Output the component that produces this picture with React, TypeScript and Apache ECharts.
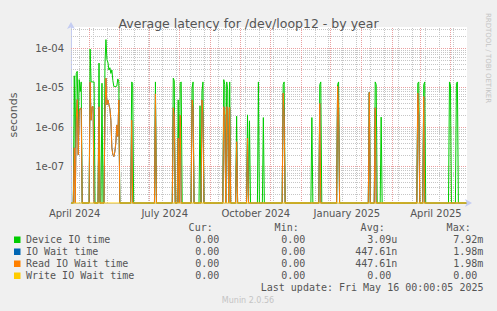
import React, { useEffect, useRef } from 'react';
import * as echarts from 'echarts';

const TITLE = 'Average latency for /dev/loop12 - by year';
const Y_NAME = 'seconds';
const X_MIN = '2024-03-13 16:48';
const X_MAX = '2025-04-17 16:48';
const FIRST_DAY = '2024-03-14';
const LAST_DAY = '2025-04-17';
const Y_MIN = 1.2e-8;
const Y_MAX = 3.45e-4;

const monthNames = ['January', 'February', 'March', 'April', 'May', 'June', 'July', 'August', 'September', 'October', 'November', 'December'];

// Device IO time (green), non-zero days
const deviceDates = [
  '2024-03-17', '2024-03-18', '2024-03-19', '2024-03-20', '2024-03-21', '2024-03-22', '2024-03-23', '2024-03-24',
  '2024-04-02', '2024-04-03', '2024-04-04', '2024-04-05', '2024-04-06', '2024-04-11', '2024-04-14',
  '2024-04-17', '2024-04-18', '2024-04-19', '2024-04-20', '2024-04-21', '2024-04-22', '2024-04-23', '2024-04-24',
  '2024-04-25', '2024-04-26', '2024-04-27', '2024-04-28', '2024-04-29', '2024-04-30', '2024-05-01',
  '2024-05-14', '2024-05-15', '2024-06-07', '2024-06-25', '2024-06-26', '2024-06-30', '2024-07-02', '2024-07-03',
  '2024-07-14', '2024-07-15', '2024-07-22', '2024-07-24', '2024-07-25',
  '2024-08-15', '2024-08-16', '2024-08-18', '2024-08-19', '2024-08-21', '2024-08-28',
  '2024-09-08', '2024-09-10', '2024-09-19', '2024-09-24', '2024-10-14', '2024-10-15', '2024-11-12',
  '2024-11-20', '2024-11-21', '2024-12-08', '2024-12-09', '2025-01-09', '2025-01-15', '2025-01-16', '2025-01-21',
  '2025-02-27', '2025-02-28', '2025-03-05', '2025-03-06', '2025-03-31', '2025-04-01', '2025-04-07', '2025-04-08',
];
const deviceValues = [
  2.0e-5, 3e-7, 2.3e-5, 2.6e-5, 1e-6, 1.6e-5, 8e-6, 1.4e-5,
  9.5e-5, 1.4e-5, 1.4e-5, 1.4e-5, 1.4e-5, 4.2e-5, 1.3e-5,
  4e-5, 1.65e-4, 5.1e-5, 4.4e-5, 2.8e-5, 3.2e-5, 2.3e-5, 2.8e-5,
  1.5e-5, 1.07e-5, 1.07e-5, 1.07e-5, 1.1e-5, 1.67e-5, 1.4e-5,
  1.4e-5, 1.3e-5, 1.4e-5, 1.75e-5, 1.5e-5, 4.9e-6, 1.3e-5, 1.4e-5,
  9.8e-6, 1.4e-5, 3.5e-6, 8e-6, 1.4e-5,
  1.6e-5, 1.2e-5, 1.4e-5, 8.9e-6, 1.4e-5, 1.9e-6,
  2.05e-6, 1.45e-6, 1.4e-5, 1.75e-6, 1.2e-5, 1.4e-5, 1.75e-6,
  1.2e-5, 1.4e-5, 1.2e-5, 1.4e-5, 7.6e-6, 1.4e-5, 1.2e-5, 1.8e-6,
  1.3e-5, 1.4e-5, 1.2e-5, 1.4e-5, 1.4e-5, 1.2e-5, 1.3e-5, 1.4e-5,
];

// Read IO Wait time (orange) and IO Wait time (blue, identical), non-zero days
const readDates = [
  '2024-03-17', '2024-03-19', '2024-03-20', '2024-03-21', '2024-03-22', '2024-03-23', '2024-03-24',
  '2024-04-02', '2024-04-03', '2024-04-04', '2024-04-05', '2024-04-11',
  '2024-04-17', '2024-04-18', '2024-04-19', '2024-04-20', '2024-04-21', '2024-04-22', '2024-04-23', '2024-04-24',
  '2024-04-25', '2024-04-26', '2024-04-27', '2024-04-28', '2024-04-29', '2024-04-30', '2024-05-01',
  '2024-05-14', '2024-06-07', '2024-06-25', '2024-06-26', '2024-06-30', '2024-07-02',
  '2024-07-14', '2024-07-15', '2024-07-24', '2024-07-25',
  '2024-08-15', '2024-08-16', '2024-08-18', '2024-08-19', '2024-08-21', '2024-08-28', '2024-09-08',
  '2024-10-14', '2024-10-15', '2024-11-20', '2024-12-08', '2024-12-09', '2025-01-09', '2025-01-15',
  '2025-02-27', '2025-02-28', '2025-03-05',
];
const readValues = [
  3e-7, 1.5e-6, 5e-6, 2e-7, 2.5e-6, 3e-6, 3e-6,
  1.4e-5, 1.5e-6, 3.3e-6, 3.3e-6, 3.3e-6,
  2e-6, 1.75e-5, 3.7e-6, 4.9e-6, 3.7e-6, 2.9e-6, 1.5e-6, 3e-7,
  2e-7, 1.8e-7, 2.4e-7, 4e-7, 1.14e-6, 5.8e-7, 4.9e-6,
  1.5e-6, 7e-6, 3.1e-6, 2e-6, 5.3e-7, 2e-6,
  4.9e-6, 3e-6, 4.9e-6, 2e-6,
  3.3e-6, 2e-6, 3.3e-6, 3e-6, 3.2e-6, 4.3e-7, 5.3e-7,
  7.3e-6, 2e-6, 4e-6, 1.1e-5, 3e-6, 7.6e-6, 3.1e-6,
  7.3e-6, 2e-6, 6e-6,
];

// Write IO Wait time: zero on every day
const writeDates: string[] = [];
const writeValues: number[] = [];

const majorGridDates = [
  '2024-04-01', '2024-05-01', '2024-06-01', '2024-07-01', '2024-08-01', '2024-09-01', '2024-10-01',
  '2024-11-01', '2024-12-01', '2025-01-01', '2025-02-01', '2025-03-01', '2025-04-01',
];
const minorGridDates = [
  '2024-03-22', '2024-04-05', '2024-04-19', '2024-05-03', '2024-05-17', '2024-05-31', '2024-06-14',
  '2024-06-28', '2024-07-12', '2024-07-26', '2024-08-09', '2024-08-23', '2024-09-06', '2024-09-20',
  '2024-10-04', '2024-10-18', '2024-11-01', '2024-11-15', '2024-11-29', '2024-12-13', '2024-12-27',
  '2025-01-10', '2025-01-24', '2025-02-07', '2025-02-21', '2025-03-07', '2025-03-21', '2025-04-04',
];
const majorGridValues = [1e-7, 1e-6, 1e-5, 1e-4];
const minorGridValues = [
  2e-8, 3e-8, 4e-8, 5e-8, 6e-8, 7e-8, 8e-8, 9e-8,
  2e-7, 3e-7, 4e-7, 5e-7, 6e-7, 7e-7, 8e-7, 9e-7,
  2e-6, 3e-6, 4e-6, 5e-6, 6e-6, 7e-6, 8e-6, 9e-6,
  2e-5, 3e-5, 4e-5, 5e-5, 6e-5, 7e-5, 8e-5, 9e-5,
  2e-4, 3e-4,
];

const legendNames = ['Device IO time', 'IO Wait time', 'Read IO Wait time', 'Write IO Wait time'];
const legendColors = ['#00cc00', '#0066b3', '#ff8000', '#ffcc00'];
const statHeaders = ['Cur:', 'Min:', 'Avg:', 'Max:'];
const curValues = ['0.00', '0.00', '0.00', '0.00'];
const minValues = ['0.00', '0.00', '0.00', '0.00'];
const avgValues = ['3.09u', '447.61n', '447.61n', '0.00'];
const maxValues = ['7.92m', '1.98m', '1.98m', '0.00'];
const LAST_UPDATE = 'Last update: Fri May 16 00:00:05 2025';
const FOOTER = 'Munin 2.0.56';
const SIDE_TEXT = 'RRDTOOL / TOBI OETIKER';

const DAY = 86400000;

const parseTs = (s: string) => {
  const [dPart, tPart] = s.split(' ');
  const [y, m, d] = dPart.split('-').map(Number);
  let hh = 0, mm = 0;
  if (tPart) [hh, mm] = tPart.split(':').map(Number);
  return new Date(y, m - 1, d, hh, mm).getTime();
};
const fmtDay = (t: number) => {
  const d = new Date(t);
  const p = (n: number) => String(n).padStart(2, '0');
  return `${d.getFullYear()}-${p(d.getMonth() + 1)}-${p(d.getDate())}`;
};

const allDays: string[] = (() => {
  const out: string[] = [];
  const d = new Date(parseTs(FIRST_DAY));
  const end = parseTs(LAST_DAY);
  while (d.getTime() <= end) {
    out.push(fmtDay(d.getTime()));
    d.setDate(d.getDate() + 1);
  }
  return out;
})();

const dailySeries = (dates: string[], values: number[]) => {
  const m = new Map<string, number>();
  dates.forEach((d, i) => m.set(d, values[i]));
  // zero days sit on the bottom of the log axis
  return allDays.map((d) => {
    const v = m.get(d) ?? 0;
    return [parseTs(d), v > 0 ? v : Y_MIN];
  });
};

const SANS = 'DejaVu Sans';
const MONO = 'DejaVu Sans Mono';
const TXT = '#555555';

export default function App() {
  const ref = useRef<HTMLDivElement>(null);
  useEffect(() => {
    if (!ref.current) return;
    const chart = echarts.init(ref.current, undefined, { renderer: 'svg' });
    const xMin = parseTs(X_MIN);
    const xMax = parseTs(X_MAX);

    const seriesDefs = [
      { name: legendNames[0], color: legendColors[0], dates: deviceDates, values: deviceValues },
      { name: legendNames[1], color: legendColors[1], dates: readDates, values: readValues },
      { name: legendNames[2], color: legendColors[2], dates: readDates, values: readValues },
      { name: legendNames[3], color: legendColors[3], dates: writeDates, values: writeValues },
    ];

    const majorC = '#eaa0a0';
    const minorC = '#c6c6c6';
    const gridSeries = (color: string, data: any[]) => ({
      type: 'lines',
      coordinateSystem: 'cartesian2d',
      silent: true,
      z: 1,
      lineStyle: { color, width: 1, type: [1, 1], opacity: 1 },
      emphasis: { disabled: true },
      data,
    });

    const rows = [239.5, 251.5, 263.5, 275.5];
    const colRight = [225.3, 311.3, 397.3, 483.3];
    const cols = [curValues, minValues, avgValues, maxValues];
    const graphics: any[] = [];
    legendNames.forEach((n, i) => {
      graphics.push({
        type: 'rect',
        shape: { x: 14, y: rows[i] - 3, width: 6.5, height: 6.5 },
        style: { fill: legendColors[i] },
      });
      graphics.push({
        type: 'text',
        x: 26,
        y: rows[i],
        style: { text: n, font: `10px "${MONO}"`, fill: TXT, textVerticalAlign: 'middle' },
      });
      cols.forEach((col, c) => {
        const s = col[i];
        const hasUnit = /[a-zA-Z]$/.test(s);
        graphics.push({
          type: 'text',
          x: colRight[c] - (hasUnit ? 0 : 6.02),
          y: rows[i],
          style: { text: s, font: `10px "${MONO}"`, fill: TXT, textAlign: 'right', textVerticalAlign: 'middle' },
        });
      });
    });
    statHeaders.forEach((h, c) => {
      graphics.push({
        type: 'text',
        x: colRight[c] - 12.6,
        y: 227.5,
        style: { text: h, font: `10px "${MONO}"`, fill: TXT, textAlign: 'right', textVerticalAlign: 'middle' },
      });
    });
    graphics.push({
      type: 'text',
      x: 483.5,
      y: 287.8,
      style: { text: LAST_UPDATE, font: `10px "${MONO}"`, fill: TXT, textAlign: 'right', textVerticalAlign: 'middle' },
    });
    graphics.push({
      type: 'text',
      x: 248,
      y: 300.8,
      style: { text: FOOTER, font: `8px "${SANS}"`, fill: '#c4c4c4', textAlign: 'center', textVerticalAlign: 'middle' },
    });
    graphics.push({
      type: 'text',
      x: 488,
      y: 58,
      rotation: -Math.PI / 2,
      style: { text: SIDE_TEXT, font: `7px "${SANS}"`, fill: '#c4c4c4', textAlign: 'center', textVerticalAlign: 'middle' },
    });

    const option: any = {
      animation: false,
      backgroundColor: '#f0f0f0',
      textStyle: { fontFamily: SANS },
      title: {
        text: TITLE,
        left: 'center',
        top: 12,
        textStyle: { fontFamily: SANS, fontSize: 12.5, fontWeight: 'normal', color: TXT },
      },
      grid: {
        left: 67,
        right: 30,
        top: 27,
        bottom: 108,
        show: true,
        backgroundColor: '#ffffff',
        borderWidth: 0,
        containLabel: false,
      },
      xAxis: {
        type: 'time',
        min: xMin,
        max: xMax,
        splitNumber: 13,
        minInterval: 28 * DAY,
        maxInterval: 31 * DAY,
        splitLine: { show: false },
        axisTick: { show: false },
        axisLine: {
          show: true,
          lineStyle: { color: '#c5cdf2', width: 1 },
          symbol: ['none', 'arrow'],
          symbolSize: [6, 7],
          symbolOffset: [0, 5],
        },
        axisLabel: {
          formatter: (v: number) => {
            const d = new Date(v);
            if (d.getDate() !== 1 || d.getHours() !== 0 || d.getMonth() % 3 !== 0) return '';
            return `${monthNames[d.getMonth()]} ${d.getFullYear()}`;
          },
          fontFamily: SANS,
          fontSize: 10,
          color: TXT,
          margin: 5,
          padding: [0, 29, 0, 0],
          hideOverlap: false,
        },
      },
      yAxis: {
        type: 'log',
        logBase: 10,
        min: Y_MIN,
        max: Y_MAX,
        name: Y_NAME,
        nameLocation: 'middle',
        nameRotate: 90,
        nameGap: 52,
        nameTextStyle: { fontFamily: SANS, fontSize: 11, color: TXT },
        splitLine: { show: false },
        minorSplitLine: { show: false },
        axisTick: { show: false },
        axisLine: {
          show: true,
          lineStyle: { color: '#c5cdf2', width: 1 },
          symbol: ['none', 'arrow'],
          symbolSize: [6, 7],
          symbolOffset: [0, 5],
        },
        axisLabel: {
          formatter: (v: number) => {
            const l = Math.log10(v);
            const e = Math.round(l);
            if (Math.abs(l - e) > 1e-6) return '';
            return `1e${e < 0 ? '-' : '+'}${String(Math.abs(e)).padStart(2, '0')}`;
          },
          fontFamily: SANS,
          fontSize: 10,
          color: TXT,
          margin: 7,
        },
      },
      series: [
        gridSeries(minorC, [
          ...minorGridValues.map((v) => ({ coords: [[xMin, v], [xMax, v]] })),
          ...minorGridDates.map((d) => ({ coords: [[parseTs(d), Y_MIN], [parseTs(d), Y_MAX]] })),
        ]),
        gridSeries(majorC, [
          ...majorGridValues.map((v) => ({ coords: [[xMin, v], [xMax, v]] })),
          ...majorGridDates.map((d) => ({ coords: [[parseTs(d), Y_MIN], [parseTs(d), Y_MAX]] })),
        ]),
        ...seriesDefs.map((s, i) => ({
          type: 'line',
          name: s.name,
          data: dailySeries(s.dates, s.values),
          showSymbol: false,
          symbol: 'none',
          clip: false,
          z: 3 + i,
          lineStyle: { color: s.color, width: 1 },
          itemStyle: { color: s.color },
          emphasis: { disabled: true },
        })),
      ],
      graphic: graphics,
    };

    chart.setOption(option);
    return () => chart.dispose();
  }, []);

  return (
    <div
      ref={ref}
      style={{ position: 'fixed', left: 0, top: 0, width: 497, height: 311, background: '#f0f0f0' }}
    />
  );
}
